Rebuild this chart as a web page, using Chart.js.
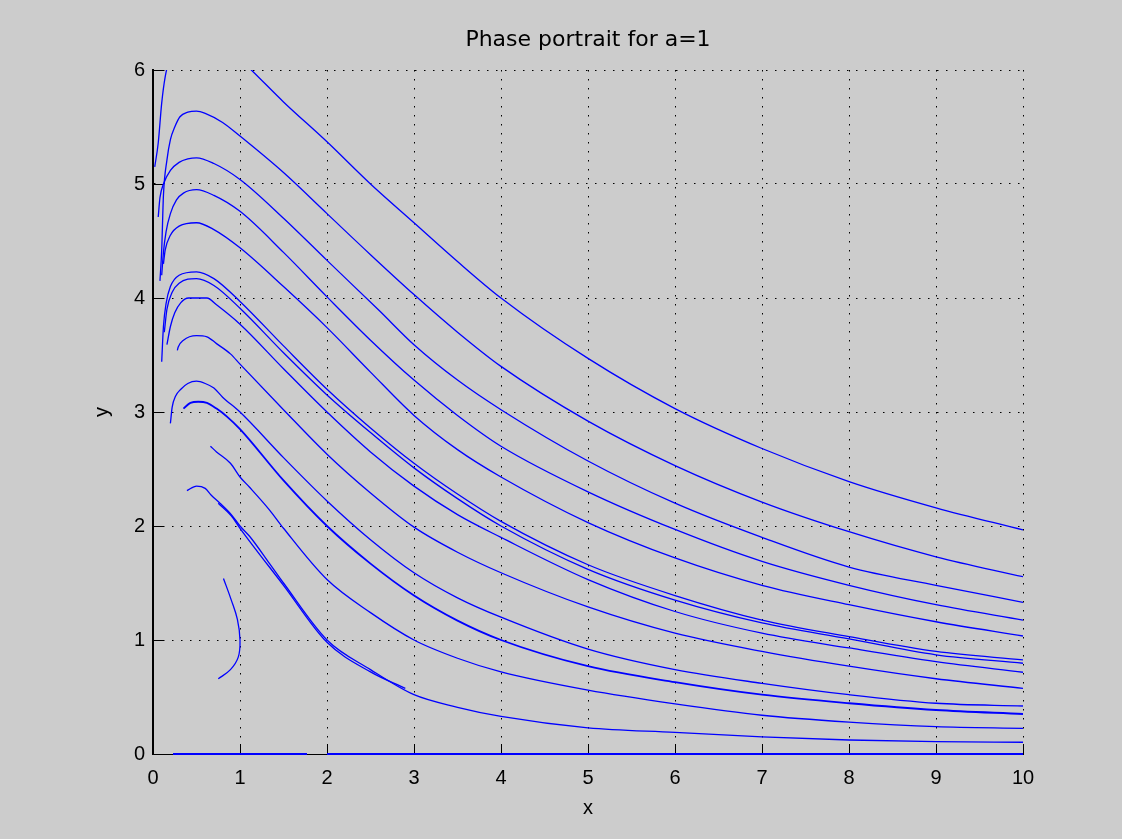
<!DOCTYPE html>
<html><head><meta charset="utf-8">
<script src="https://cdn.jsdelivr.net/npm/chart.js@4"></script>
<style>html,body{margin:0;padding:0;background:#cccccc;}canvas{display:block;}</style>
</head><body>
<canvas id="c" width="1122" height="839"></canvas>
<script>
const xTicks = [0,1,2,3,4,5,6,7,8,9,10];
const yTicks = [0,1,2,3,4,5,6];

const curveS1 = [[0.02,5.15],[0.06,5.36],[0.1,5.71],[0.14,5.94],[0.2,6.12],[0.3,6.26],[0.5,6.33],[0.8,6.24],[1.13,6.0],[1.5,5.72],[2,5.37],[2.5,5.0],[3,4.66],[3.5,4.32],[4,4.0],[5,3.47],[6,3.03],[7,2.68],[8,2.39],[9,2.16],[10,1.965]];
const curveP1 = [[0.08,4.15],[0.1,4.42],[0.12,4.9],[0.16,5.21],[0.2,5.39],[0.25,5.5],[0.31,5.59],[0.4,5.63],[0.5,5.64],[0.6,5.62],[0.8,5.54],[1,5.42],[1.5,5.1],[2,4.74],[2.5,4.38],[3,4.03],[3.5,3.7],[4,3.4],[5,2.92],[6,2.53],[7,2.21],[8,1.95],[9,1.73],[10,1.555]];
const curveP2 = [[0.06,4.71],[0.08,4.88],[0.12,5.0],[0.2,5.12],[0.3,5.19],[0.4,5.22],[0.5,5.23],[0.7,5.18],[1,5.04],[1.5,4.7],[2,4.33],[2.6,3.89],[3,3.59],[3.5,3.28],[4,3.02],[5,2.57],[6,2.2],[7,1.9],[8,1.64],[9,1.48],[10,1.33]];
const curveP3 = [[0.1,4.2],[0.12,4.4],[0.15,4.58],[0.2,4.74],[0.27,4.86],[0.35,4.92],[0.5,4.95],[0.7,4.9],[1,4.76],[1.5,4.4],[2,4.01],[2.5,3.63],[3,3.28],[3.5,2.97],[4,2.7],[5,2.3],[6,1.97],[7,1.69],[8,1.48],[9,1.31],[10,1.175]];
const curveP4 = [[0.12,4.3],[0.14,4.42],[0.2,4.55],[0.3,4.63],[0.5,4.66],[0.7,4.6],[1,4.44],[1.5,4.1],[2,3.74],[2.5,3.35],[3,2.97],[3.5,2.67],[4,2.43],[5,2.03],[6,1.72],[7,1.48],[8,1.31],[9,1.16],[10,1.035]];
const curveL6 = [[0.1,3.44],[0.12,3.75],[0.15,3.95],[0.2,4.1],[0.3,4.2],[0.5,4.23],[0.7,4.17],[1,3.97],[1.5,3.58],[2,3.2],[2.5,2.86],[3,2.55],[3.5,2.28],[4,2.04],[5,1.66],[6,1.39],[7,1.175],[8,1.03],[9,0.9],[10,0.825]];
const curveL7 = [[0.13,3.7],[0.16,3.9],[0.22,4.05],[0.3,4.13],[0.5,4.17],[0.7,4.11],[1,3.91],[1.5,3.52],[2,3.15],[2.5,2.82],[3,2.51],[3.5,2.24],[4,2.0],[5,1.62],[6,1.35],[7,1.15],[8,1.01],[9,0.87],[10,0.796]];
const curveL8 = [[0.16,3.59],[0.2,3.75],[0.25,3.87],[0.32,3.96],[0.41,4.0],[0.62,4.0],[0.73,3.94],[1,3.77],[1.5,3.38],[2,3.0],[2.5,2.65],[3,2.35],[3.5,2.1],[4,1.9],[5,1.53],[6,1.25],[7,1.06],[8,0.93],[9,0.81],[10,0.717]];
const curveL9 = [[0.28,3.54],[0.29,3.57],[0.35,3.63],[0.5,3.67],[0.62,3.66],[0.73,3.6],[0.89,3.51],[1,3.42],[1.5,3.02],[2,2.63],[2.5,2.29],[3,1.99],[3.5,1.77],[4,1.59],[5,1.29],[6,1.06],[7,0.9],[8,0.77],[9,0.66],[10,0.576]];
const curveL10 = [[0.2,2.9],[0.22,3.04],[0.26,3.14],[0.32,3.2],[0.4,3.25],[0.5,3.27],[0.6,3.25],[0.7,3.21],[0.8,3.13],[1,3.0],[1.5,2.6],[2,2.22],[2.5,1.88],[3,1.59],[3.5,1.37],[4,1.2],[5,0.92],[6,0.74],[7,0.62],[8,0.52],[9,0.445],[10,0.421]];
const curveL11 = [[0.35,3.03],[0.43,3.08],[0.52,3.09],[0.62,3.08],[0.73,3.03],[0.85,2.96],[1,2.85],[1.5,2.4],[2,2.0],[2.5,1.67],[3,1.39],[3.5,1.17],[4,1.0],[5,0.77],[6,0.63],[7,0.52],[8,0.445],[9,0.386],[10,0.351]];
const curveL12 = [[0.66,2.7],[0.73,2.65],[0.89,2.55],[1,2.43],[1.11,2.34],[1.34,2.14],[1.5,1.98],[2,1.53],[2.5,1.24],[3,1.0],[3.5,0.84],[4,0.72],[5,0.56],[6,0.44],[7,0.34],[8,0.28],[9,0.24],[10,0.225]];
const curveL13 = [[0.39,2.31],[0.5,2.35],[0.6,2.33],[0.67,2.27],[0.77,2.2],[0.9,2.1],[1,2.0],[1.11,1.91],[1.34,1.67],[1.5,1.5],[2,1.0],[2.5,0.74],[3,0.52],[3.5,0.41],[4,0.33],[5,0.23],[6,0.19],[7,0.15],[8,0.123],[9,0.108],[10,0.103]];
const curveL13b = [[0.75,2.2],[0.9,2.09],[1,1.98],[1.5,1.48],[2,0.98],[2.5,0.72],[2.9,0.575]];
const curveArc = [[0.81,1.54],[0.9,1.35],[0.97,1.18],[1.0,1.0],[0.98,0.85],[0.89,0.74],[0.75,0.66]];
const zeroA = [[0.23,0],[1.77,0]];
const zeroB = [[2.0,0],[10,0]];

const smoothCurves = [curveS1,curveP1,curveP2,curveP3,curveP4,curveL6,curveL7,curveL8,curveL9,curveL10,curveL11,curveL12,curveL13,curveL13b];
const BLUE = '#0000ff';
const FONT = 'Liberation Sans, Arial, Helvetica, sans-serif';
const toPts = c => c.map(p => ({x:p[0], y:p[1]}));

const datasets = smoothCurves.map(c => ({
  data: toPts(c), showLine:true, borderColor:BLUE, borderWidth:(c===curveL11?1.8:1.3),
  pointRadius:0, fill:false, cubicInterpolationMode:'monotone'
}));
datasets.push({data:toPts(curveArc), showLine:true, borderColor:BLUE, borderWidth:1.3, pointRadius:0, tension:0.4});
[zeroA, zeroB].forEach(z => datasets.push({data:toPts(z), showLine:true, borderColor:BLUE, borderWidth:2, pointRadius:0, clip:false}));

const inwardTicks = {
  id:'inwardTicks',
  beforeDatasetsDraw(chart){
    const {ctx, chartArea:a, scales:{x, y}} = chart;
    ctx.save();
    ctx.strokeStyle = '#000'; ctx.lineWidth = 1;
    ctx.beginPath();
    xTicks.forEach(v => { const px = Math.round(x.getPixelForValue(v)) + 0.5; ctx.moveTo(px, a.bottom); ctx.lineTo(px, a.bottom - 10); });
    yTicks.forEach(v => { const py = Math.round(y.getPixelForValue(v)) + 0.5; ctx.moveTo(a.left, py); ctx.lineTo(a.left + 10, py); });
    ctx.stroke();
    ctx.restore();
  }
};

new Chart(document.getElementById('c'), {
  type:'scatter',
  data:{datasets},
  plugins:[inwardTicks],
  options:{
    responsive:false, animation:false, devicePixelRatio:1,
    layout:{padding:{left:0, right:99, top:0, bottom:0}},
    plugins:{
      legend:{display:false}, tooltip:{enabled:false},
      title:{display:true, text:'Phase portrait for a=1', color:'#000', fullSize:false,
        font:{family:'DejaVu Sans, Liberation Sans, sans-serif', size:22, weight:'normal', lineHeight:1.2}, padding:{top:27, bottom:16.6}}
    },
    scales:{
      x:{type:'linear', min:0, max:10,
        afterFit(s){ s.height = 85; },
        ticks:{stepSize:1, color:'#000', font:{family:FONT, size:20}, padding:12, maxRotation:0, autoSkip:false},
        grid:{color:'#000', lineWidth:1, drawTicks:false},
        border:{display:true, color:'#000', width:1, dash:[1.5,7.5]},
        title:{display:true, text:'x', color:'#000', font:{family:FONT, size:20}, padding:{top:0, bottom:19}}
      },
      y:{type:'linear', min:0, max:6,
        afterFit(s){ s.width = 153; },
        ticks:{stepSize:1, color:'#000', font:{family:FONT, size:20}, padding:8, autoSkip:false},
        grid:{color:'#000', lineWidth:1, drawTicks:false},
        border:{display:true, color:'#000', width:2, dash:[1.5,7.5]},
        title:{display:true, text:'y', color:'#000', font:{family:FONT, size:20}, padding:{top:90, bottom:0}}
      }
    }
  }
});
</script>
</body></html>
